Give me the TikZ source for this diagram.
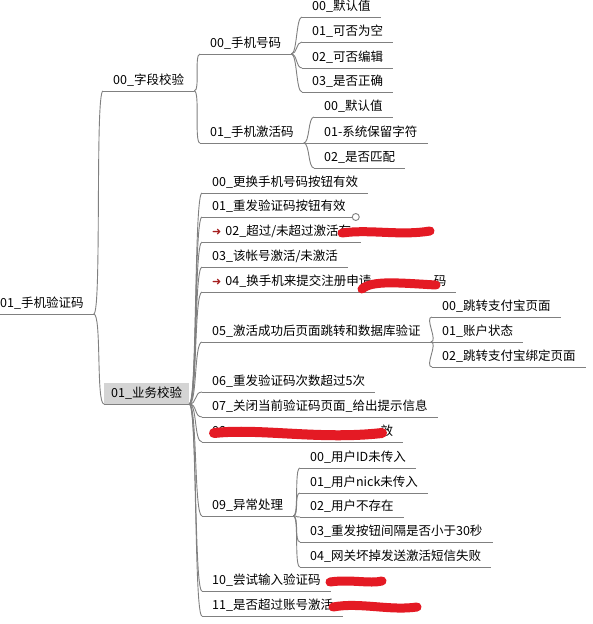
\documentclass[tikz,border=0pt]{standalone}
\usepackage{fontspec}
\setmainfont{Noto Sans CJK SC}
\newfontfamily\symfont{DejaVu Sans}
\definecolor{linegray}{RGB}{128,128,128}
\definecolor{boxgray}{RGB}{212,212,212}
\definecolor{arrowred}{RGB}{165,30,30}
\definecolor{inkred}{RGB}{228,26,36}
\newcommand{\redarrow}{{\symfont\fontsize{11}{11}\selectfont\color{arrowred}➜}\hspace{4pt}}
\tikzset{
	link/.style = {draw = linegray, line width = 0.9pt},
	topic/.style = {anchor = south west, inner xsep = 10pt, inner ysep = 4pt, text depth = 2pt,
		font = \fontsize{12.5}{14}\selectfont,
		append after command = {\pgfextra{\let\thistopic\tikzlastnode}
			(\thistopic.south west) edge[link] (\thistopic.south east)}},
	scribble/.style = {draw = inkred, line width = 9pt, line cap = round, line join = round}
}
\begin{document}
\begin{tikzpicture} [x = 1pt, y = -1pt]
	\useasboundingbox (0,0) rectangle (593,624);
	\fill [white] (0,0) rectangle (593,624);
	% root
	\node [topic] (root) at (-10,314) {01\_手机验证码};
	% first level
	\node [topic] (field) at (103,91) {00\_字段校验};
	\node [topic, fill = boxgray, inner xsep = 7pt] (business) at (104,404) {01\_业务校验};
	\draw [link] (root.south east) .. controls +(8,0) and +(-8,0) .. (field.south west);
	\draw [link] (root.south east) .. controls +(8,0) and +(-8,0) .. (business.south west);
	% field check
	\node [topic] (phone) at (200,54) {00\_手机号码};
	\node [topic] (code) at (200,143) {01\_手机激活码};
	\draw [link] (field.south east) .. controls +(6,0) and +(-6,0) .. (phone.south west);
	\draw [link] (field.south east) .. controls +(6,0) and +(-6,0) .. (code.south west);
	\node [topic] (phdef) at (302,17) {00\_默认值};
	\node [topic] (phempty) at (302,42) {01\_可否为空};
	\node [topic] (phedit) at (302,68) {02\_可否编辑};
	\node [topic] (phright) at (302,92) {03\_是否正确};
	\draw [link] (phone.south east) .. controls +(6,0) and +(-6,0) .. (phdef.south west);
	\draw [link] (phone.south east) .. controls +(6,0) and +(-6,0) .. (phempty.south west);
	\draw [link] (phone.south east) .. controls +(6,0) and +(-6,0) .. (phedit.south west);
	\draw [link] (phone.south east) .. controls +(6,0) and +(-6,0) .. (phright.south west);
	\node [topic] (cddef) at (314,117) {00\_默认值};
	\node [topic] (cdres) at (314,143) {01-系统保留字符};
	\node [topic] (cdmatch) at (314,168) {02\_是否匹配};
	\draw [link] (code.south east) .. controls +(6,0) and +(-6,0) .. (cddef.south west);
	\draw [link] (code.south east) .. controls +(6,0) and +(-6,0) .. (cdres.south west);
	\draw [link] (code.south east) .. controls +(6,0) and +(-6,0) .. (cdmatch.south west);
	% business check
	\node [topic] (bz00) at (202,193) {00\_更换手机号码按钮有效};
	\node [topic] (bz01) at (202,217) {01\_重发验证码按钮有效};
	\node [topic] (bz02) at (202,242) {\redarrow 02\_超过/未超过激活有\hspace{5.8em}};
	\node [topic] (bz03) at (202,267) {03\_该帐号激活/未激活};
	\node [topic] (bz04) at (202,292) {\redarrow 04\_换手机来提交注册申请\hspace{5em}码};
	\node [topic] (bz05) at (202,342) {05\_激活成功后页面跳转和数据库验证};
	\node [topic] (bz06) at (202,392) {06\_重发验证码次数超过5次};
	\node [topic] (bz07) at (202,417) {07\_关闭当前验证码页面\_给出提示信息};
	\node [topic] (bz08) at (202,442) {08\_\hspace{11.8em}效};
	\node [topic] (bz09) at (202,516) {09\_异常处理};
	\node [topic] (bz10) at (202,591) {10\_尝试输入验证码\hspace{5em}};
	\node [topic] (bz11) at (202,616) {11\_是否超过账号激活\hspace{6.3em}};
	\draw [link] (business.south east) .. controls +(8,0) and +(-8,0) .. (bz00.south west);
	\draw [link] (business.south east) .. controls +(8,0) and +(-8,0) .. (bz01.south west);
	\draw [link] (business.south east) .. controls +(8,0) and +(-8,0) .. (bz02.south west);
	\draw [link] (business.south east) .. controls +(8,0) and +(-8,0) .. (bz03.south west);
	\draw [link] (business.south east) .. controls +(8,0) and +(-8,0) .. (bz04.south west);
	\draw [link] (business.south east) .. controls +(8,0) and +(-8,0) .. (bz05.south west);
	\draw [link] (business.south east) .. controls +(8,0) and +(-8,0) .. (bz06.south west);
	\draw [link] (business.south east) .. controls +(8,0) and +(-8,0) .. (bz07.south west);
	\draw [link] (business.south east) .. controls +(8,0) and +(-8,0) .. (bz08.south west);
	\draw [link] (business.south east) .. controls +(8,0) and +(-8,0) .. (bz09.south west);
	\draw [link] (business.south east) .. controls +(8,0) and +(-8,0) .. (bz10.south west);
	\draw [link] (business.south east) .. controls +(8,0) and +(-8,0) .. (bz11.south west);
	\draw [link, fill = white] (bz01.south east) circle (3.5); %collapse
	% page jump
	\node [topic] (jump00) at (432,317) {00\_跳转支付宝页面};
	\node [topic] (jump01) at (432,342) {01\_账户状态};
	\node [topic] (jump02) at (432,367) {02\_跳转支付宝绑定页面};
	\draw [link] (bz05.south east) .. controls +(8,0) and +(-8,0) .. (jump00.south west);
	\draw [link] (bz05.south east) .. controls +(8,0) and +(-8,0) .. (jump01.south west);
	\draw [link] (bz05.south east) .. controls +(8,0) and +(-8,0) .. (jump02.south west);
	% exceptions
	\node [topic] (err00) at (300,468) {00\_用户ID未传入};
	\node [topic] (err01) at (300,493) {01\_用户nick未传入};
	\node [topic] (err02) at (300,517) {02\_用户不存在};
	\node [topic] (err03) at (300,542) {03\_重发按钮间隔是否小于30秒};
	\node [topic] (err04) at (300,567) {04\_网关坏掉发送激活短信失败};
	\draw [link] (bz09.south east) .. controls +(6,0) and +(-6,0) .. (err00.south west);
	\draw [link] (bz09.south east) .. controls +(6,0) and +(-6,0) .. (err01.south west);
	\draw [link] (bz09.south east) .. controls +(6,0) and +(-6,0) .. (err02.south west);
	\draw [link] (bz09.south east) .. controls +(6,0) and +(-6,0) .. (err03.south west);
	\draw [link] (bz09.south east) .. controls +(6,0) and +(-6,0) .. (err04.south west);
	% red marks
	\draw [scribble] (342,233) .. controls (370,229) and (400,236) .. (430,231);
	\draw [scribble] (362,289) .. controls (372,280) and (400,283) .. (436,285);
	\draw [scribble, line width = 10pt] (214,433) .. controls (260,428) and (320,440) .. (382,433);
	\draw [scribble] (330,582) .. controls (350,579) and (370,584) .. (382,581);
	\draw [scribble] (333,607) .. controls (360,602) and (390,611) .. (417,607);
\end{tikzpicture}
\end{document}
